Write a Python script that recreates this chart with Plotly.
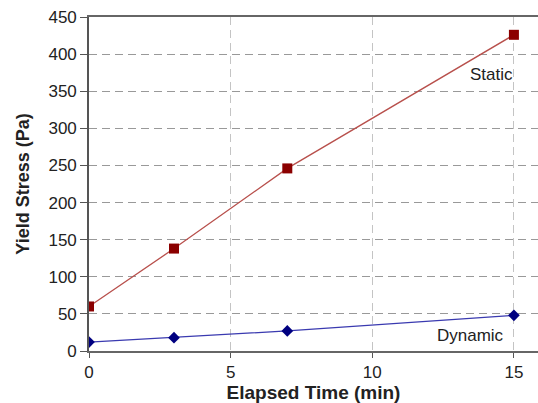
import plotly.graph_objects as go

time_min = [0, 3, 7, 15]
static_stress = [60, 138, 246, 426]
dynamic_stress = [12, 18, 27, 48]
x_ticks = [0, 5, 10, 15]
y_ticks = [0, 50, 100, 150, 200, 250, 300, 350, 400, 450]

fig = go.Figure()
fig.add_trace(go.Scatter(
    x=time_min, y=static_stress, mode="lines+markers", name="Static",
    line=dict(color="#b8504c", width=1.3),
    marker=dict(symbol="square", size=10, color="#8b0000"),
))
fig.add_trace(go.Scatter(
    x=time_min, y=dynamic_stress, mode="lines+markers", name="Dynamic",
    line=dict(color="#3a3ab0", width=1.2),
    marker=dict(symbol="diamond", size=9, color="#000080"),
))

font_family = "Liberation Sans, Arial, Helvetica, sans-serif"

fig.add_annotation(x=14.22, y=373, text="Static", showarrow=False,
                   font=dict(family=font_family, size=17, color="#222"))
fig.add_annotation(x=13.45, y=21.5, text="Dynamic", showarrow=False,
                   font=dict(family=font_family, size=17, color="#222"))

fig.update_layout(
    width=538, height=403,
    margin=dict(l=89, r=0, t=17, b=52, autoexpand=False),
    plot_bgcolor="white", paper_bgcolor="white",
    showlegend=False,
    font=dict(family=font_family, color="#222"),
    xaxis=dict(
        range=[0, 15.85], tickvals=x_ticks, ticks="outside", ticklen=5,
        tickcolor="#555", showline=True, linecolor="#666", linewidth=1.6,
        mirror=True, showgrid=True, gridcolor="#c4c4c4", griddash="8px,5px",
        gridwidth=1.2, zeroline=False, tickfont=dict(size=17),
        title=dict(text="<b>Elapsed Time (min)</b>", font=dict(size=19), standoff=6),
    ),
    yaxis=dict(
        range=[0, 450], tickvals=y_ticks, ticks="outside", ticklen=7,
        tickcolor="#555", showline=True, linecolor="#555", linewidth=1.6,
        showgrid=True, gridcolor="#999999", griddash="8px,5px", gridwidth=1.2,
        zeroline=False, tickfont=dict(size=17),
        title=dict(text="<b>Yield Stress (Pa)</b>", font=dict(size=18), standoff=14),
    ),
)

fig.write_html("out.html", config={"displayModeBar": False},
               post_script="document.body.style.margin='0';document.body.style.overflow='hidden';")
